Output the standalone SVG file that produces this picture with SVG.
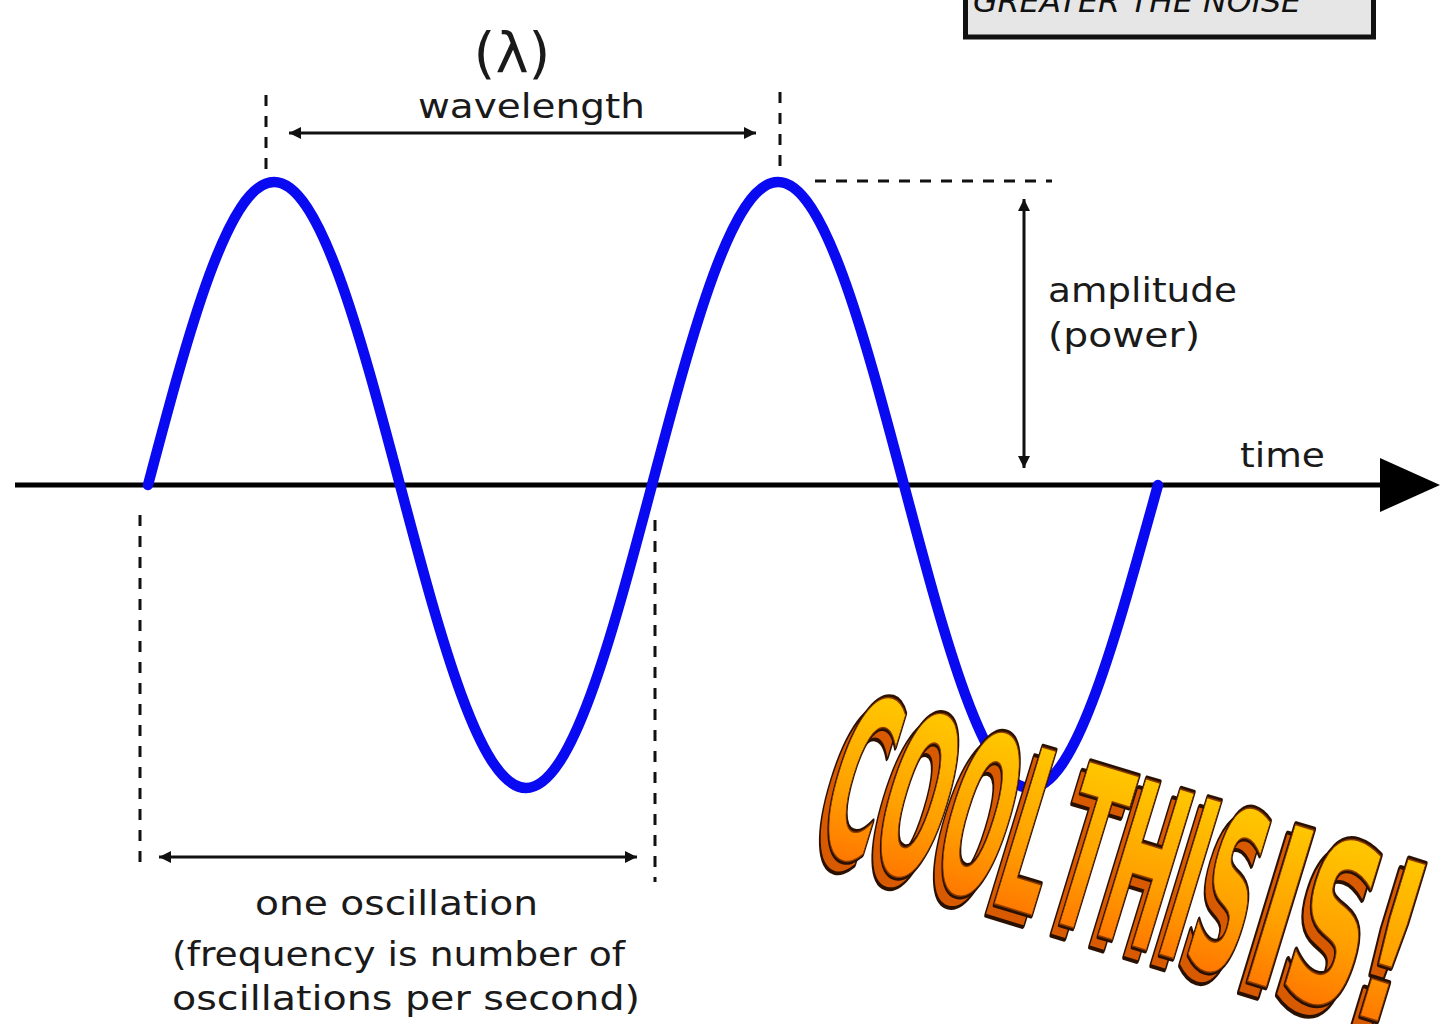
<svg xmlns="http://www.w3.org/2000/svg" width="1447" height="1024" viewBox="0 0 1447 1024">
  <defs>
    <style>
      .lbl { font-family: "DejaVu Sans", "Liberation Sans", sans-serif; fill: #1a1a1a; font-size: 34px; }
      .dash { stroke: #111; stroke-width: 3; stroke-dasharray: 11 10; fill: none; }
      .dim { stroke: #111; stroke-width: 3; fill: none; }
      .cool { font-family: "DejaVu Sans Condensed", "Liberation Sans Narrow", "DejaVu Sans", sans-serif; font-weight: bold; font-size: 225px; }
      .cshadow { fill: #d85a00; stroke: #2a1000; stroke-width: 8; stroke-linejoin: round; paint-order: stroke; }
      .cmain { fill: url(#coolGrad); stroke: #2a1000; stroke-width: 7; stroke-linejoin: round; paint-order: stroke; }
      .cline { fill: none; stroke: #8a3a00; stroke-width: 1.5; }
    </style>
    <marker id="ah" viewBox="0 0 10 10" refX="10" refY="5" markerWidth="14" markerHeight="12" markerUnits="userSpaceOnUse" orient="auto-start-reverse">
      <path d="M0,0 L10,5 L0,10 z" fill="#111"/>
    </marker>
    <linearGradient id="coolGrad" x1="0" y1="0" x2="0" y2="1">
      <stop offset="0" stop-color="#ffd800"/>
      <stop offset="0.55" stop-color="#ffa000"/>
      <stop offset="1" stop-color="#ff5a00"/>
    </linearGradient>
  </defs>

  <rect width="1447" height="1024" fill="#ffffff"/>

  <g id="connectors">
    <line x1="15" y1="485" x2="1382" y2="485" stroke="#000" stroke-width="5"/>
    <path d="M1380,458 L1440,485 L1380,512 z" fill="#000"/>
    <line class="dash" x1="266" y1="95" x2="266" y2="172"/>
    <line class="dash" x1="780" y1="92" x2="780" y2="172"/>
    <line class="dash" x1="815" y1="181" x2="1052" y2="181" stroke-dasharray="13 9"/>
    <line class="dash" x1="140" y1="515" x2="140" y2="872"/>
    <line class="dash" x1="655" y1="520" x2="655" y2="882"/>
    <line class="dim" x1="289" y1="133" x2="756" y2="133" marker-start="url(#ah)" marker-end="url(#ah)"/>
    <line class="dim" x1="1024" y1="199" x2="1024" y2="468" marker-start="url(#ah)" marker-end="url(#ah)"/>
    <line class="dim" x1="159" y1="857" x2="637" y2="857" marker-start="url(#ah)" marker-end="url(#ah)"/>
  </g>

  <g id="wave">
    <path d="M148,485 C189.1,329.8 228.4,182 274,182 C319.6,182 358.9,329.8 400,485 C441.1,640.2 480.4,788 526,788 C571.6,788 610.9,640.2 652,485 C693.1,329.8 732.4,182 778,182 C823.6,182 862.9,329.8 904,485 C945.1,640.2 984.4,788 1030,788 C1075.6,788 1114.9,640.2 1158,485" fill="none" stroke="#0a0af2" stroke-width="10.5" stroke-linecap="round"/>
  </g>

  <g id="label-lambda">
    <text class="lbl" x="512" y="72" text-anchor="middle" style="font-size:56px">(λ)</text>
  </g>
  <g id="label-wavelength">
    <text class="lbl" x="418" y="118" textLength="227" lengthAdjust="spacingAndGlyphs">wavelength</text>
  </g>
  <g id="label-amplitude">
    <text class="lbl" x="1048" y="302" textLength="189" lengthAdjust="spacingAndGlyphs">amplitude</text>
    <text class="lbl" x="1048" y="347" textLength="152" lengthAdjust="spacingAndGlyphs">(power)</text>
  </g>
  <g id="label-time">
    <text class="lbl" x="1240" y="467" textLength="85" lengthAdjust="spacingAndGlyphs">time</text>
  </g>
  <g id="label-oscillation">
    <text class="lbl" x="255" y="915" textLength="283" lengthAdjust="spacingAndGlyphs">one oscillation</text>
    <text class="lbl" x="172" y="966" textLength="453" lengthAdjust="spacingAndGlyphs">(frequency is number of</text>
    <text class="lbl" x="172" y="1010" textLength="468" lengthAdjust="spacingAndGlyphs">oscillations per second)</text>
  </g>

  <g id="noise-box">
    <rect x="965.5" y="-5" width="408" height="42" fill="#e6e6e6" stroke="#111" stroke-width="5"/>
    <text x="973" y="12" font-family="DejaVu Sans, sans-serif" font-style="italic" font-size="30" fill="#111" textLength="328" lengthAdjust="spacingAndGlyphs">GREATER THE NOISE</text>
  </g>

  <g id="cool-text" transform="translate(812,848) rotate(17)">
    <g transform="translate(-5,12)">
      <text class="cool cshadow" x="0" y="0" textLength="232" lengthAdjust="spacingAndGlyphs">COOL</text>
      <text class="cool cshadow" x="240" y="0" textLength="200" lengthAdjust="spacingAndGlyphs">THIS</text>
      <text class="cool cshadow" x="446" y="0" textLength="160" lengthAdjust="spacingAndGlyphs">IS!</text>
    </g>
    <text class="cool cmain" x="0" y="0" textLength="232" lengthAdjust="spacingAndGlyphs">COOL</text>
    <text class="cool cmain" x="240" y="0" textLength="200" lengthAdjust="spacingAndGlyphs">THIS</text>
    <text class="cool cmain" x="446" y="0" textLength="160" lengthAdjust="spacingAndGlyphs">IS!</text>
    <text class="cool cline" x="0" y="0" textLength="232" lengthAdjust="spacingAndGlyphs">COOL</text>
    <text class="cool cline" x="240" y="0" textLength="200" lengthAdjust="spacingAndGlyphs">THIS</text>
    <text class="cool cline" x="446" y="0" textLength="160" lengthAdjust="spacingAndGlyphs">IS!</text>
  </g>
</svg>
